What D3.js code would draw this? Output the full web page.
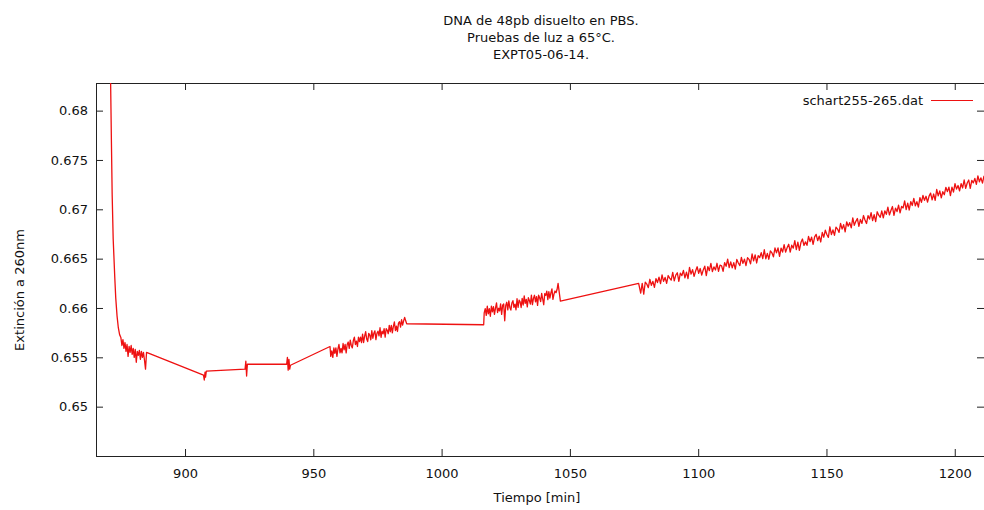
<!DOCTYPE html>
<html>
<head>
<meta charset="utf-8">
<script src="https://cdn.jsdelivr.net/npm/d3@7/dist/d3.min.js"></script>
<style>
  html, body { margin: 0; padding: 0; background: #fff; }
  svg { display: block; font-family: "DejaVu Sans", sans-serif; }
</style>
</head>
<body>
<svg id="chart" width="984" height="510"></svg>
<script>
// ---------------- DATA ----------------
const titleLines = ["DNA de 48pb disuelto en PBS.", "Pruebas de luz a 65°C.", "EXPT05-06-14."];
const xLabel = "Tiempo [min]";
const yLabel = "Extinción a 260nm";
const seriesName = "schart255-265.dat";

const xTicks = [900, 950, 1000, 1050, 1100, 1150, 1200];
const yTicks = [0.65, 0.655, 0.66, 0.665, 0.67, 0.675, 0.68];
const yTickLabels = ["0.65", "0.655", "0.66", "0.665", "0.67", "0.675", "0.68"];

// initial decay
const decayTimes  = [870.4, 871.0, 871.3, 871.6, 872.0, 872.6, 873.0, 873.5, 874.0, 874.5];
const decayValues = [0.6950, 0.6828, 0.6770, 0.6715, 0.6670, 0.6632, 0.6610, 0.6592, 0.6580, 0.6573];

// noisy run 1 (evenly sampled between span ends)
const noise1Span = [875.0, 885.0];
const noise1Values = [0.6570, 0.6562, 0.6568, 0.6559, 0.6565, 0.6556, 0.6563, 0.6551, 0.6561, 0.6555,
  0.6562, 0.6553, 0.6559, 0.6550, 0.6558, 0.6545, 0.6556, 0.6552, 0.6557, 0.6548,
  0.6556, 0.6550, 0.6555, 0.6547, 0.6538, 0.6555];

// sparse stretch with small steps
const stepTimes  = [907.2, 907.5, 907.8, 908.0, 908.3, 923.4, 923.7, 924.0, 924.3, 939.6, 939.9, 940.2, 940.5, 940.8, 941.1, 956.5];
const stepValues = [0.6532, 0.6527, 0.6535, 0.6530, 0.6536, 0.6538, 0.6546, 0.6531, 0.6543, 0.6543, 0.6550, 0.6537, 0.6548, 0.6538, 0.6542, 0.6561];

// noisy run 2
const noise2Span = [956.8, 986.0];
const noise2Values = [0.6551, 0.65565, 0.6550, 0.65595, 0.6554, 0.65595, 0.6551, 0.65585, 0.6563, 0.65545,
  0.6559, 0.65545, 0.6564, 0.65575, 0.6563, 0.65545, 0.6563, 0.65655, 0.6559, 0.65675,
  0.6562, 0.65595, 0.6567, 0.65705, 0.6563, 0.65665, 0.6561, 0.65705, 0.6566, 0.65705,
  0.6565, 0.65735, 0.6565, 0.65715, 0.6576, 0.65685, 0.6566, 0.65743, 0.65725, 0.65678,
  0.6577, 0.65693, 0.65745, 0.65768, 0.6568, 0.65743, 0.65765, 0.65718, 0.6580, 0.65703,
  0.65765, 0.65738, 0.6579, 0.65705, 0.6579, 0.65774, 0.65739, 0.65824, 0.65759, 0.65823,
  0.65748, 0.65813, 0.65858, 0.65772, 0.65817, 0.65762, 0.65847, 0.65861, 0.65806, 0.65881,
  0.65826, 0.6587, 0.65905, 0.6587];

// flat gap
const flatTimes  = [986.4, 1016.4];
const flatValues = [0.6584, 0.6583];

// noisy run 3
const noise3Span = [1016.6, 1045.4];
const noise3Values = [0.6595, 0.65993, 0.65925, 0.66018, 0.65941, 0.65993, 0.65916, 0.66018, 0.65961, 0.66014,
  0.65936, 0.65999, 0.66052, 0.65954, 0.65997, 0.6597, 0.66042, 0.65935, 0.66028, 0.6604,
  0.6587, 0.66025, 0.66058, 0.65981, 0.66073, 0.66006, 0.65979, 0.66051, 0.66074, 0.66007,
  0.66039, 0.65982, 0.66094, 0.66007, 0.6608, 0.66062, 0.66005, 0.66098, 0.6603, 0.66123,
  0.66046, 0.66088, 0.66011, 0.66104, 0.66076, 0.66039, 0.66131, 0.66034, 0.66097, 0.66129,
  0.66062, 0.66115, 0.66027, 0.6613, 0.66103, 0.66065, 0.66148, 0.66091, 0.66033, 0.66146,
  0.66128, 0.66171, 0.66084, 0.66166, 0.66099, 0.66152, 0.66194, 0.66087, 0.6614, 0.66172,
  0.66155, 0.66187, 0.6625];

// ramp gap
const rampTimes  = [1046.3, 1076.8];
const rampValues = [0.6607, 0.6625];

// noisy run 4
const noise4Span = [1077.0, 1211.4];
const noise4Values = [
  0.66225, 0.6615, 0.66249, 0.6614, 0.66263, 0.66242, 0.66206, 0.66291, 0.6623, 0.6627,
  0.66209, 0.66298, 0.66258, 0.66312, 0.66247, 0.66336, 0.6627, 0.6631, 0.66249, 0.66329,
  0.66303, 0.66282, 0.6636, 0.66274, 0.66333, 0.66357, 0.6627, 0.66354, 0.66328, 0.66381,
  0.66305, 0.66364, 0.66297, 0.66411, 0.66344, 0.66388, 0.66321, 0.66375, 0.66418, 0.66352,
  0.664, 0.66333, 0.66386, 0.66424, 0.66327, 0.6642, 0.66378, 0.66451, 0.66369, 0.66417,
  0.66385, 0.66453, 0.66372, 0.66435, 0.66428, 0.66372, 0.6646, 0.66423, 0.66496, 0.6641,
  0.66468, 0.66407, 0.6646, 0.66394, 0.66492, 0.66456, 0.6643, 0.66513, 0.66452, 0.66495,
  0.66429, 0.66509, 0.66493, 0.66448, 0.66547, 0.66477, 0.66537, 0.66456, 0.66531, 0.6651,
  0.6656, 0.665, 0.6659, 0.66499, 0.66554, 0.66494, 0.66579, 0.66559, 0.66518, 0.66608,
  0.66558, 0.66608, 0.66523, 0.66607, 0.66567, 0.66642, 0.66567, 0.66612, 0.66646, 0.66566,
  0.66636, 0.66606, 0.66682, 0.66592, 0.66668, 0.66583, 0.66663, 0.66699, 0.66634, 0.6667,
  0.66635, 0.66726, 0.66672, 0.66718, 0.66644, 0.6672, 0.66746, 0.66682, 0.66728, 0.66669,
  0.66765, 0.66717, 0.66788, 0.66745, 0.66716, 0.66823, 0.66744, 0.66791, 0.66737, 0.66819,
  0.668, 0.66766, 0.66858, 0.66799, 0.66845, 0.66772, 0.66873, 0.66829, 0.66865, 0.66812,
  0.66913, 0.66838, 0.66878, 0.66907, 0.66827, 0.66897, 0.66857, 0.66937, 0.66891, 0.66856,
  0.66936, 0.66901, 0.66966, 0.66885, 0.66945, 0.66875, 0.66975, 0.6694, 0.66919, 0.66984,
  0.66914, 0.66984, 0.66949, 0.67023, 0.66943, 0.66988, 0.67028, 0.66938, 0.67012, 0.66977,
  0.67042, 0.66963, 0.67029, 0.67014, 0.67085, 0.66996, 0.67062, 0.66993, 0.67078, 0.67039,
  0.6711, 0.67036, 0.67077, 0.67023, 0.67119, 0.6707, 0.6714, 0.67091, 0.67132, 0.67073,
  0.67134, 0.67164, 0.67095, 0.67155, 0.67091, 0.67201, 0.67136, 0.67187, 0.67117, 0.67178,
  0.67148, 0.67223, 0.67179, 0.67224, 0.67139, 0.67225, 0.67175, 0.6726, 0.67205, 0.67241,
  0.67186, 0.67261, 0.67216, 0.67297, 0.67212, 0.67267, 0.67297, 0.67212, 0.67293, 0.67268,
  0.67313, 0.67253, 0.67339, 0.67279, 0.67319, 0.67265, 0.6734];

const xDomain = [865.3, 1211.4];
const yDomain = [0.645, 0.6828];

// ---------------- BUILD SERIES ----------------
function explicit(times, values) { return times.map((t, i) => ({ t, v: values[i] })); }
function sampled(span, values) {
  const n = values.length;
  return values.map((v, i) => ({ t: span[0] + (span[1] - span[0]) * i / (n - 1), v }));
}
const data = [].concat(
  explicit(decayTimes, decayValues),
  sampled(noise1Span, noise1Values),
  explicit(stepTimes, stepValues),
  sampled(noise2Span, noise2Values),
  explicit(flatTimes, flatValues),
  sampled(noise3Span, noise3Values),
  explicit(rampTimes, rampValues),
  sampled(noise4Span, noise4Values)
);

// ---------------- LAYOUT ----------------
const plot = { left: 96, right: 984, top: 83, bottom: 456 };
const svg = d3.select("#chart");
const x = d3.scaleLinear().domain(xDomain).range([plot.left, plot.right]);
const y = d3.scaleLinear().domain(yDomain).range([plot.bottom, plot.top]);
const textColor = "#111";
const fs = 13;

// title
svg.append("g").selectAll("text").data(titleLines).join("text")
  .attr("x", 541).attr("y", (d, i) => 25 + i * 17)
  .attr("text-anchor", "middle").attr("font-size", fs).attr("fill", textColor)
  .text(d => d);

// clip
svg.append("defs").append("clipPath").attr("id", "plotclip")
  .append("rect").attr("x", plot.left).attr("y", plot.top)
  .attr("width", plot.right - plot.left).attr("height", plot.bottom - plot.top);

// axes
const tick = 7;
const yAxisL = svg.append("g").attr("transform", `translate(${plot.left},0)`)
  .call(d3.axisLeft(y).tickValues(yTicks).tickFormat((d, i) => yTickLabels[i]).tickSize(-tick).tickPadding(8));
const yAxisR = svg.append("g").attr("transform", `translate(${plot.right},0)`)
  .call(d3.axisRight(y).tickValues(yTicks).tickFormat("").tickSize(-tick));
const xAxisB = svg.append("g").attr("transform", `translate(0,${plot.bottom})`)
  .call(d3.axisBottom(x).tickValues(xTicks).tickFormat(d3.format("d")).tickSize(-tick).tickPadding(13));
const xAxisT = svg.append("g").attr("transform", `translate(0,${plot.top})`)
  .call(d3.axisTop(x).tickValues(xTicks).tickFormat("").tickSize(-tick));
[yAxisL, yAxisR, xAxisB, xAxisT].forEach(g => {
  g.select(".domain").remove();
  g.selectAll("line").attr("stroke", "#222");
  g.selectAll("text").attr("font-size", fs).attr("font-family", "DejaVu Sans").attr("fill", textColor);
});

// frame
svg.append("rect").attr("x", plot.left + 0.5).attr("y", plot.top + 0.5)
  .attr("width", plot.right - plot.left).attr("height", plot.bottom - plot.top)
  .attr("fill", "none").attr("stroke", "#222").attr("stroke-width", 1);

// axis labels
svg.append("text").attr("x", 537).attr("y", 502).attr("text-anchor", "middle")
  .attr("font-size", fs).attr("fill", textColor).text(xLabel);
svg.append("text").attr("transform", "translate(24,290) rotate(-90)").attr("text-anchor", "middle")
  .attr("font-size", fs).attr("fill", textColor).text(yLabel);

// line
const line = d3.line().x(d => x(d.t)).y(d => y(d.v));
svg.append("path").datum(data).attr("clip-path", "url(#plotclip)")
  .attr("d", line).attr("fill", "none").attr("stroke", "#ee1111").attr("stroke-width", 1.3)
  .attr("stroke-linejoin", "round");

// legend
svg.append("text").attr("x", 923).attr("y", 105).attr("text-anchor", "end")
  .attr("font-size", fs).attr("fill", textColor).text(seriesName);
svg.append("line").attr("x1", 931).attr("x2", 973).attr("y1", 100.5).attr("y2", 100.5)
  .attr("stroke", "#ee1111").attr("stroke-width", 1.2);
</script>
</body>
</html>
